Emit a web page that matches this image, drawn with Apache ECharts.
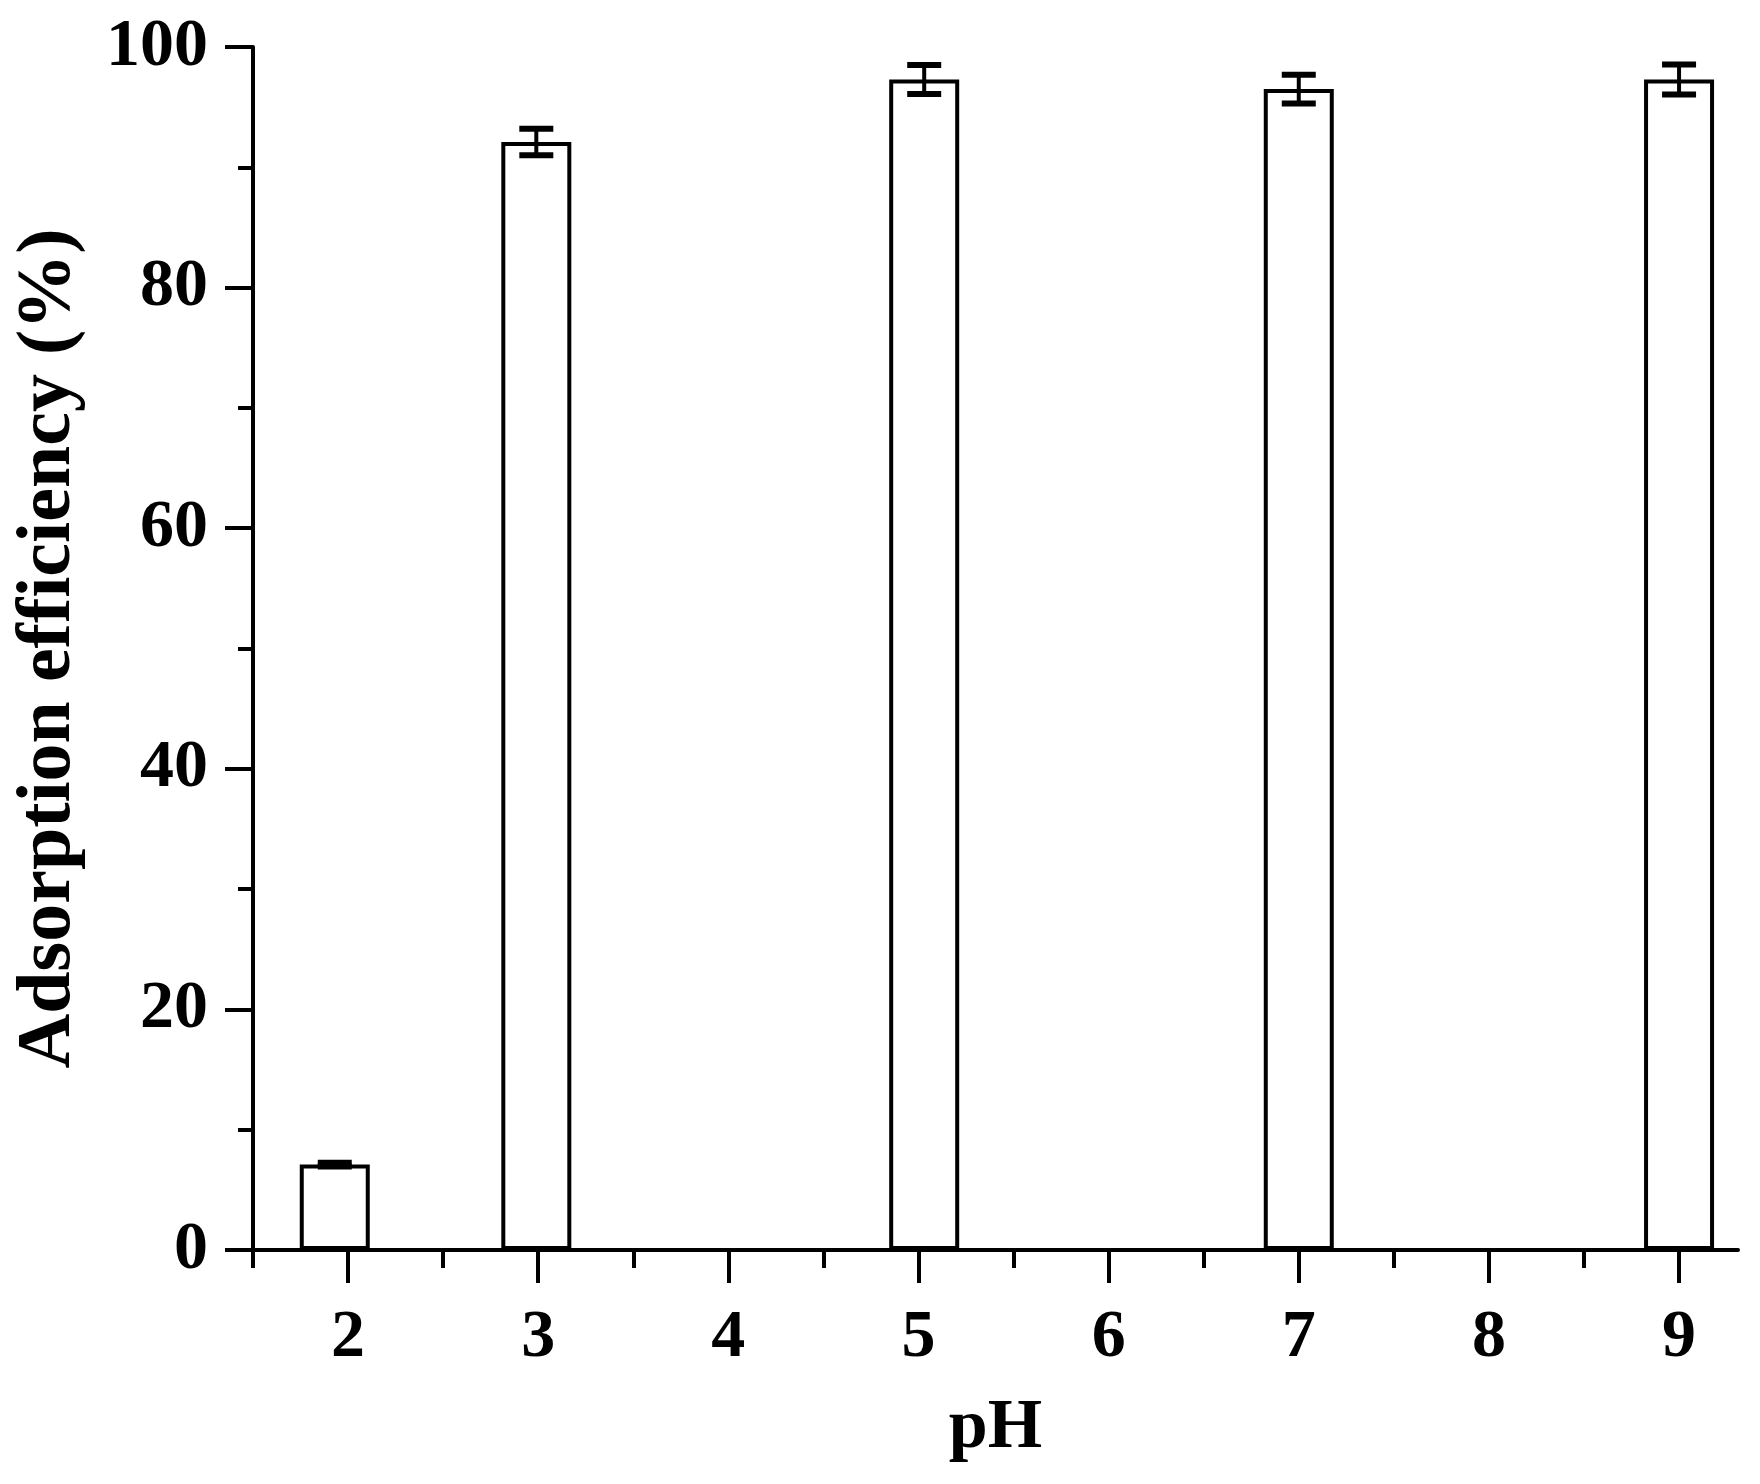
<!DOCTYPE html>
<html>
<head>
<meta charset="utf-8">
<script src="https://cdn.jsdelivr.net/npm/echarts@6/dist/echarts.min.js"></script>
<style>
html,body{margin:0;padding:0;background:#fff;}
#chart{width:1760px;height:1484px;}
</style>
</head>
<body>
<div id="chart"></div>
<script>
// Data
const phValues = [1.93, 2.99, 5.03, 7, 9];
const efficiency = [7.1, 92.1, 97.3, 96.5, 97.3];
const errors = [0.15, 1.1, 1.2, 1.2, 1.25];
const xMajorTicks = [2, 3, 4, 5, 6, 7, 8, 9];
const xMinorTicks = [1.5, 2.5, 3.5, 4.5, 5.5, 6.5, 7.5, 8.5];

const FONT = 'Liberation Serif';

const barData = phValues.map((x, i) => [x, efficiency[i]]);
const errData = phValues.map((x, i) => [x, efficiency[i], errors[i]]);

const chart = echarts.init(document.getElementById('chart'));

function renderError(params, api) {
  const x = api.value(0), y = api.value(1), e = api.value(2);
  const top = api.coord([x, y + e]);
  const bot = api.coord([x, y - e]);
  const hw = 17;
  const s = { stroke: '#000', lineWidth: 4 };
  const c = { stroke: '#000', lineWidth: 6 };
  return {
    type: 'group',
    children: [
      { type: 'line', shape: { x1: top[0], y1: top[1], x2: bot[0], y2: bot[1] }, style: s },
      { type: 'line', shape: { x1: top[0] - hw, y1: top[1], x2: top[0] + hw, y2: top[1] }, style: c },
      { type: 'line', shape: { x1: bot[0] - hw, y1: bot[1], x2: bot[0] + hw, y2: bot[1] }, style: c }
    ]
  };
}

chart.setOption({
  backgroundColor: '#fff',
  animation: false,
  grid: { left: 253, right: 22, top: 47, bottom: 234, containLabel: false },
  xAxis: [
    {
      type: 'value',
      min: 1.5,
      max: 9.31,
      position: 'bottom',
      name: 'pH',
      nameLocation: 'middle',
      nameGap: 144,
      nameTextStyle: { fontFamily: FONT, fontWeight: 'bold', fontSize: 70, color: '#000' },
      axisLine: { show: true, onZero: false, lineStyle: { color: '#000', width: 4 } },
      axisTick: { show: true, inside: false, length: 33, customValues: xMajorTicks, lineStyle: { color: '#000', width: 4 } },
      axisLabel: { show: true, customValues: xMajorTicks, margin: 54, fontFamily: FONT, fontWeight: 'bold', fontSize: 68, color: '#000' },
      splitLine: { show: false }
    },
    {
      type: 'value',
      min: 1.5,
      max: 9.31,
      position: 'bottom',
      axisLine: { show: false },
      axisTick: { show: true, inside: false, length: 18, customValues: xMinorTicks, lineStyle: { color: '#000', width: 4 } },
      axisLabel: { show: false },
      splitLine: { show: false }
    }
  ],
  yAxis: {
    type: 'value',
    min: 0,
    max: 100,
    interval: 20,
    name: 'Adsorption efficiency (%)',
    nameLocation: 'middle',
    nameGap: 166,
    nameTextStyle: { fontFamily: FONT, fontWeight: 'bold', fontSize: 76, color: '#000' },
    axisLine: { show: true, lineStyle: { color: '#000', width: 4 } },
    axisTick: { show: true, inside: false, length: 28, lineStyle: { color: '#000', width: 4 } },
    minorTick: { show: true, splitNumber: 2, length: 15, lineStyle: { color: '#000', width: 4 } },
    axisLabel: { margin: 45, fontFamily: FONT, fontWeight: 'bold', fontSize: 68, color: '#000' },
    splitLine: { show: false },
    minorSplitLine: { show: false }
  },
  series: [
    {
      type: 'bar',
      xAxisIndex: 0,
      data: barData,
      barWidth: 70,
      itemStyle: { color: '#fff', borderColor: '#000', borderWidth: 4 },
      z: 2
    },
    {
      type: 'custom',
      xAxisIndex: 0,
      data: errData,
      renderItem: renderError,
      z: 5
    }
  ]
});
</script>
</body>
</html>
